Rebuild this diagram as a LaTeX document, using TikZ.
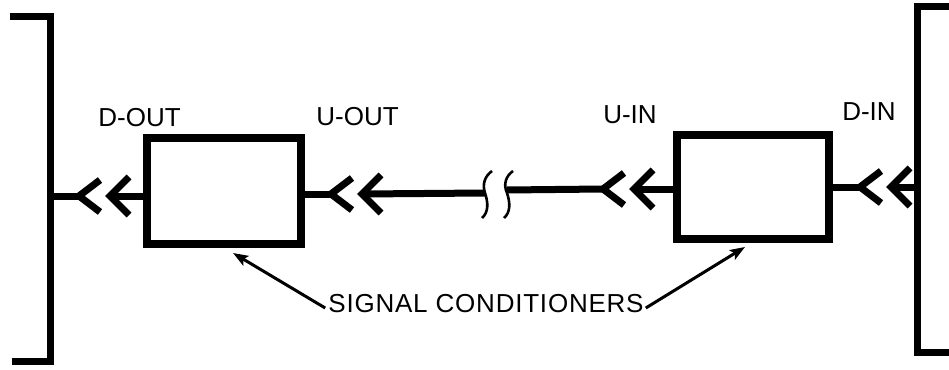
\documentclass[tikz,border=0pt]{standalone}
\usepackage{fontspec}
\setmainfont{Liberation Sans}
\usetikzlibrary{arrows.meta}
\begin{document}
\begin{tikzpicture}[x=1pt,y=-1pt,
  wire/.style={line width=7pt},
  bracket/.style={line width=7pt, line join=miter},
  boxstyle/.style={draw, line width=8pt, rectangle, inner sep=0pt},
  lbl/.style={anchor=base, inner sep=0pt, font=\fontsize{26}{28}\selectfont},
  chev/.style={line width=7pt, line join=miter, miter limit=10},
  brk/.style={line width=2.6pt},
  ptr/.style={line width=3pt, -{Stealth[length=15pt,width=11pt,inset=3pt]}}]
\useasboundingbox (0,0) rectangle (949,369);

% brackets
\draw[bracket] (10,17) -- (50.5,17) -- (50.5,361) -- (12,361);
\draw[bracket] (949,7) -- (917.5,7) -- (917.5,352) -- (949,352);
\coordinate (jL) at (50.5,196);
\coordinate (jR) at (917.5,187);

% boxes
\node[boxstyle, minimum width=154pt, minimum height=106pt] (boxL) at (224,191) {};
\node[boxstyle, minimum width=152pt, minimum height=104pt] (boxR) at (753,187) {};

% labels
\node[lbl] (dout) at (139.5,126) {D-OUT};
\node[lbl] (uout) at (357.5,125) {U-OUT};
\node[lbl] (uin)  at (630,123) {U-IN};
\node[lbl] (din)  at (869,120) {D-IN};
\node[lbl, font=\fontsize{26}{28}\selectfont\addfontfeature{LetterSpace=3}] (sig) at (486,312) {SIGNAL CONDITIONERS};

% connector coordinates
\coordinate (y1) at (79,196);  \coordinate (t1) at (110,196);
\coordinate (y2) at (331,194); \coordinate (t2) at (362,194);
\coordinate (y3) at (603,189); \coordinate (t3) at (634,189);
\coordinate (y4) at (860,187); \coordinate (t4) at (891,187);
\coordinate (b1) at (485,193);
\coordinate (b2) at (507,190);

% wires
\draw[wire] (jL) -- (y1);
\draw[wire] (t1) -- (boxL.west |- t1);
\draw[wire] (boxL.east |- y2) -- (y2);
\draw[wire] (t2) -- (b1);
\draw[wire] (b2) -- (y3);
\draw[wire] (t3) -- (boxR.west |- t3);
\draw[wire] (boxR.east |- y4) -- (y4);
\draw[wire] (t4) -- (jR);

% chevrons
\foreach \k in {1,2,3,4}{
  \draw[chev] ([shift={(21,-16)}]y\k) -- (y\k) -- ([shift={(21,16)}]y\k);
  \draw[chev] ([shift={(19,-19)}]t\k) -- (t\k) -- ([shift={(19,19)}]t\k);
}

% break marks
\draw[brk] (492,171) .. controls (485,176) and (482,184) .. (485,193)
           .. controls (488,202) and (489,212) .. (482,218);
\draw[brk] (513,171) .. controls (506,176) and (503,184) .. (507,193)
           .. controls (510,202) and (511,212) .. (504,218);

% pointers
\coordinate (tipL) at (233,253);
\coordinate (tipR) at (745,247);
\draw[ptr] ([shift={(-3,-4)}]sig.base west) -- (tipL);
\draw[ptr] ([shift={(2,-4)}]sig.base east) -- (tipR);
\end{tikzpicture}
\end{document}
